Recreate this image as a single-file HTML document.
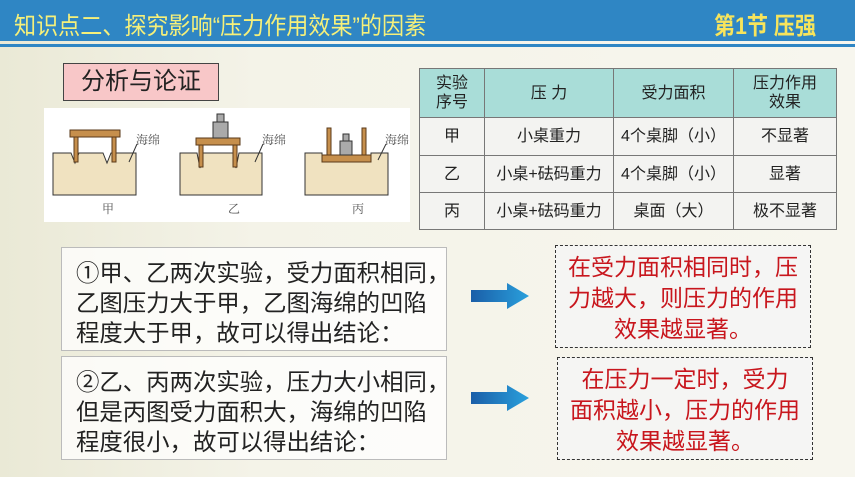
<!DOCTYPE html>
<html><head><meta charset="utf-8"><style>
body{margin:0;width:855px;height:477px;overflow:hidden;position:relative;background:linear-gradient(90deg,#eae9d6 0%,#f4f3e8 30%,#f7f6ee 100%);font-family:"Liberation Sans","Noto Sans CJK SC",sans-serif}
.hdr{position:absolute;left:0;top:0;width:855px;height:41px;background:#2f86c4}
.line{position:absolute;left:0;top:44px;width:855px;height:3px;background:#2f86c4}
.t{position:absolute;white-space:nowrap}
table{position:absolute;left:419px;top:68px;border-collapse:collapse;font-size:16px;color:#222;background:#f3f3f1}
td{border:1.5px solid #777;text-align:center;padding:0;line-height:19px}
.lb{position:absolute;left:63px;top:63px;width:154px;height:36px;background:#f8c7c8;border:1px solid #444;font-size:24px;text-align:center;line-height:36px;color:#222}
.box{position:absolute;left:61px;width:386px;height:104px;background:rgba(255,255,255,.75);border:1px solid #bbb;box-sizing:border-box;color:#222}
.box div{position:absolute;left:14px;top:10px;font-size:23.4px;line-height:30px;white-space:nowrap}
.rb{position:absolute;width:256px;height:103px;border:1px dashed #333;background:rgba(245,245,245,.85);color:#c8161d;font-size:23px;line-height:31px;text-align:center;box-sizing:border-box;padding-top:6px;white-space:nowrap}
.ar{position:absolute;width:58px;height:26px}
</style></head><body>
<div class="hdr"></div><div class="line"></div>
<div class="t" style="left:14px;top:6px;font-size:24px;color:#f6f07a;transform:scaleX(0.92);transform-origin:0 0">知识点二、探究影响“压力作用效果”的因素</div>
<div class="t" style="left:714px;top:6px;font-size:24px;font-weight:bold;color:#f7e45c;transform:scaleX(0.88);transform-origin:0 0">第1节 压强</div>
<div class="lb">分析与论证</div>
<svg style="position:absolute;left:0;top:0" width="420" height="230">
<rect x="44" y="108" width="366" height="114" fill="#fff"/>
<g fill="#f0e2c0" stroke="#333">
<path d="M53,153 h18 l4,10 l4,-10 h24 l4,10 l4,-10 h25 v42 h-83z"/>
<path d="M180,153 h17 l3,15 l3,-15 h30 l3,15 l3,-15 h23 v42 h-82z"/>
<path d="M305,153 h17 v9 h49 v-9 h17 v42 h-83z"/></g>
<g fill="#c68f4c" stroke="#5a3a1a">
<rect x="70" y="130" width="50" height="7"/><rect x="74" y="137" width="4" height="25"/><rect x="112" y="137" width="4" height="25"/>
<rect x="196" y="138" width="44" height="7"/><rect x="199" y="145" width="4" height="22"/><rect x="233" y="145" width="4" height="22"/>
<rect x="322" y="155" width="49" height="7"/><rect x="327" y="128" width="4" height="27"/><rect x="362" y="128" width="4" height="27"/></g>
<g fill="#aaa" stroke="#333"><rect x="213" y="122" width="15" height="16"/><rect x="217" y="114" width="7" height="8"/><rect x="340" y="141" width="12" height="14"/><rect x="343" y="134" width="6" height="7"/></g>
<g stroke="#333" fill="none"><path d="M137,144 l-8,18"/><path d="M263,144 l-8,18"/><path d="M386,144 l-8,16"/></g>
<g font-size="12" fill="#555" font-family="Liberation Serif,Noto Serif CJK SC,serif"><text x="136" y="144">海绵</text><text x="262" y="144">海绵</text><text x="385" y="144">海绵</text><text x="102" y="213">甲</text><text x="228" y="213">乙</text><text x="352" y="213">丙</text></g>
</svg>
<table>
<tr style="height:49px;background:#a9ddd8"><td style="width:64px">实验<br>序号</td><td style="width:128px">压 力</td><td style="width:119px">受力面积</td><td style="width:102px">压力作用<br>效果</td></tr>
<tr style="height:38px"><td>甲</td><td>小桌重力</td><td>4个桌脚（小）</td><td>不显著</td></tr>
<tr style="height:37px"><td>乙</td><td>小桌+砝码重力</td><td>4个桌脚（小）</td><td>显著</td></tr>
<tr style="height:37px"><td>丙</td><td>小桌+砝码重力</td><td>桌面（大）</td><td>极不显著</td></tr>
</table>
<div class="box" style="top:247px"><div>①甲、乙两次实验，受力面积相同，<br>乙图压力大于甲，乙图海绵的凹陷<br>程度大于甲，故可以得出结论：</div></div>
<div class="box" style="top:356px"><div>②乙、丙两次实验，压力大小相同，<br>但是丙图受力面积大，海绵的凹陷<br>程度很小，故可以得出结论：</div></div>
<svg class="ar" style="left:471px;top:283px" viewBox="0 0 58 26"><defs><linearGradient id="g" x1="0" x2="1"><stop offset="0" stop-color="#1a5ea8"/><stop offset="1" stop-color="#2aa0dc"/></linearGradient></defs><path d="M0,7 h36 v-7 l22,13 l-22,13 v-7 h-36z" fill="url(#g)"/></svg>
<svg class="ar" style="left:471px;top:385px" viewBox="0 0 58 26"><path d="M0,7 h36 v-7 l22,13 l-22,13 v-7 h-36z" fill="url(#g)"/></svg>
<div class="rb" style="left:555px;top:245px">在受力面积相同时，压<br>力越大，则压力的作用<br>效果越显著。</div>
<div class="rb" style="left:557px;top:357px">在压力一定时，受力<br>面积越小，压力的作用<br>效果越显著。</div>
</body></html>
